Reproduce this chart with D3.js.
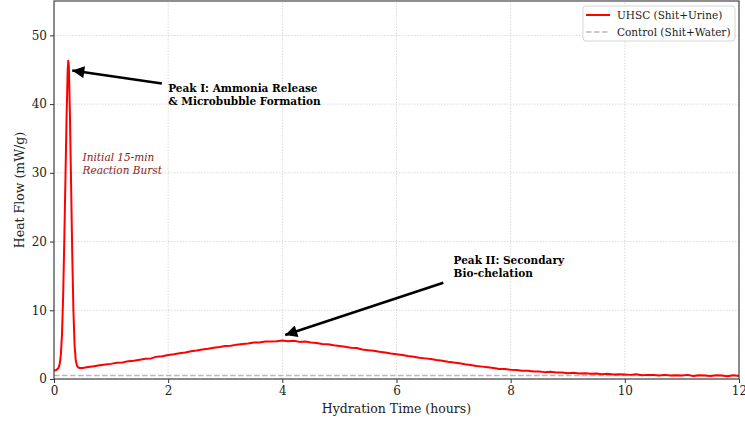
<!DOCTYPE html>
<html><head><meta charset="utf-8">
<script src="https://cdn.jsdelivr.net/npm/d3@7"></script>
<style>body{margin:0;background:#fff}svg{display:block}text{font-family:"DejaVu Serif",serif}</style>
</head><body><svg id="c" width="745" height="421"></svg>
<script>
// Peak I region (hours, mW/g)
const peakTimes  = [0.00,0.04,0.08,0.10,0.12,0.14,0.16,0.18,0.20,0.22,0.24,0.25,0.26,0.28,0.30,0.32,0.34,0.36,0.38,0.40,0.42,0.45];
const peakValues = [1.2, 1.3, 1.6, 2.2, 3.5, 6.5, 12,  20,  29,  38,  45,  46.3,45.5,38,  28,  18,  10,  5,   2.8, 2.0, 1.7, 1.6];
// Remainder of the curve (hours, mW/g)
const tailTimes = [0.5,0.6,0.7,0.8,0.9,1.0,1.1,1.2,1.3,1.4,1.5,1.6,1.7,1.8,1.9,2.0,2.1,2.2,2.3,2.4,2.5,2.6,2.7,2.8,2.9,
  3.0,3.1,3.2,3.3,3.4,3.5,3.6,3.7,3.8,3.9,4.0,4.1,4.2,4.3,4.4,4.5,4.6,4.7,4.8,4.9,5.0,5.1,5.2,5.3,5.4,5.5,5.6,5.7,5.8,5.9,
  6.0,6.1,6.2,6.3,6.4,6.5,6.6,6.7,6.8,6.9,7.0,7.1,7.2,7.3,7.4,7.5,7.6,7.7,7.8,7.9,8.0,8.1,8.2,8.3,8.4,8.5,8.6,8.7,8.8,8.9,
  9.0,9.1,9.2,9.3,9.4,9.5,9.6,9.7,9.8,9.9,10.0,10.1,10.2,10.3,10.4,10.5,10.6,10.7,10.8,10.9,11.0,11.1,11.2,11.3,11.4,11.5,11.6,11.7,11.8,11.9,12.0];
const tailValues = [1.6,1.75,1.85,2.0,2.1,2.2,2.35,2.4,2.6,2.65,2.8,2.95,3.0,3.25,3.3,3.5,3.6,3.75,3.85,4.05,4.15,4.3,4.4,4.55,4.65,
  4.8,4.85,5.0,5.1,5.15,5.3,5.3,5.45,5.45,5.5,5.6,5.5,5.55,5.4,5.45,5.3,5.25,5.1,5.05,4.9,4.8,4.7,4.55,4.5,4.3,4.2,4.1,3.95,3.85,3.7,
  3.6,3.5,3.35,3.25,3.1,3.0,2.9,2.75,2.65,2.5,2.4,2.3,2.15,2.05,1.9,1.8,1.7,1.6,1.45,1.45,1.35,1.3,1.2,1.2,1.1,1.1,1.0,1.05,0.95,0.95,
  0.85,0.9,0.8,0.85,0.75,0.8,0.7,0.75,0.65,0.7,0.65,0.6,0.7,0.55,0.6,0.6,0.5,0.6,0.5,0.55,0.5,0.6,0.45,0.55,0.5,0.45,0.55,0.5,0.4,0.55,0.45];
const controlTimes = [0, 12];
const controlValues = [0.5, 0.5];
const xTicks = [0,2,4,6,8,10,12];
const yTicks = [0,10,20,30,40,50];
const seriesNames = ["UHSC (Shit+Urine)", "Control (Shit+Water)"];

const W = 745, H = 421;
const m = {left:54, top:1, right:6, bottom:42};
const svg = d3.select("#c");
const x = d3.scaleLinear().domain([0,12]).range([m.left, W-m.right]);
const y = d3.scaleLinear().domain([0,55]).range([H-m.bottom, m.top]);

// grid
const g = svg.append("g");
g.selectAll(".vx").data(xTicks).join("line")
  .attr("x1",d=>x(d)).attr("x2",d=>x(d)).attr("y1",y(0)).attr("y2",y(55))
  .attr("stroke","#d0d0d0").attr("stroke-width",0.8).attr("stroke-dasharray","1.5,1.5");
g.selectAll(".hy").data(yTicks).join("line")
  .attr("x1",x(0)).attr("x2",x(12)).attr("y1",d=>y(d)).attr("y2",d=>y(d))
  .attr("stroke","#d0d0d0").attr("stroke-width",0.8).attr("stroke-dasharray","1.5,1.5");

const data = peakTimes.map((t,i)=>[t,peakValues[i]]).concat(tailTimes.map((t,i)=>[t,tailValues[i]]));
const line = d3.line().x(d=>x(d[0])).y(d=>y(d[1]));
svg.append("path").datum(controlTimes.map((t,i)=>[t,controlValues[i]])).attr("d",line)
  .attr("fill","none").attr("stroke","#b8b8b8").attr("stroke-width",1.5).attr("stroke-dasharray","5.5,2.5");
svg.append("path").datum(data).attr("d",line)
  .attr("fill","none").attr("stroke","#ff0000").attr("stroke-width",2).attr("stroke-linejoin","round");

// axes
const xAxis = svg.append("g").attr("transform",`translate(0,${y(0)})`)
  .call(d3.axisBottom(x).tickValues(xTicks).tickSize(4).tickPadding(3).tickFormat(d3.format("d")));
const yAxis = svg.append("g").attr("transform",`translate(${x(0)},0)`)
  .call(d3.axisLeft(y).tickValues(yTicks).tickSize(4).tickPadding(3).tickFormat(d3.format("d")));
[xAxis,yAxis].forEach(a=>{
  a.select(".domain").remove();
  a.selectAll(".tick line").attr("stroke","#333").attr("stroke-width",1);
  a.selectAll(".tick text").attr("font-family","DejaVu Serif").attr("font-size",12).attr("fill","#222");
});
// frame
svg.append("rect").attr("x",x(0)).attr("y",y(55)).attr("width",x(12)-x(0)).attr("height",y(0)-y(55))
  .attr("fill","none").attr("stroke","#444").attr("stroke-width",1.2);

svg.append("text").attr("x",(x(0)+x(12))/2).attr("y",413).attr("text-anchor","middle")
  .attr("font-size",12.5).attr("fill","#222").text("Hydration Time (hours)");
svg.append("text").attr("transform",`translate(24,${(y(0)+y(55))/2}) rotate(-90)`).attr("text-anchor","middle")
  .attr("font-size",12.5).attr("fill","#222").text("Heat Flow (mW/g)");

// arrows
const defs = svg.append("defs");
defs.append("marker").attr("id","ah").attr("viewBox","0 0 10 10").attr("refX",10).attr("refY",5)
  .attr("markerWidth",17).attr("markerHeight",12).attr("markerUnits","userSpaceOnUse").attr("orient","auto")
  .append("path").attr("d","M0,0L10,5L0,10Z").attr("fill","#000");
function arrow(t0,v0,t1,v1){
  svg.append("line").attr("x1",x(t0)).attr("y1",y(v0)).attr("x2",x(t1)).attr("y2",y(v1))
    .attr("stroke","#000").attr("stroke-width",2.5).attr("marker-end","url(#ah)");
}
arrow(1.89,43.0, 0.32,44.9);
arrow(6.82,14.0, 4.05,6.4);

function label(tx, ty, lines, opts){
  const t = svg.append("text").attr("x",tx).attr("y",ty).attr("font-size",opts.size)
    .attr("font-weight",opts.weight||"normal").attr("font-style",opts.style||"normal").attr("fill",opts.fill||"#000");
  lines.forEach((l,i)=>t.append("tspan").attr("x",tx).attr("dy",i?opts.lh:0).text(l));
}
label(x(2.0), 92, ["Peak I: Ammonia Release","& Microbubble Formation"], {size:10.5, weight:"bold", lh:13});
label(x(7.0), 264, ["Peak II: Secondary","Bio-chelation"], {size:10.5, weight:"bold", lh:12.5});
label(x(0.5), 161, ["Initial 15-min","Reaction Burst"], {size:10.5, style:"italic", fill:"#8b1a1a", lh:12.5});

// legend
const lg = svg.append("g");
lg.append("rect").attr("x",583).attr("y",6).attr("width",152).attr("height",35).attr("rx",3)
  .attr("fill","#fff").attr("fill-opacity",0.8).attr("stroke","#d6d6d6").attr("stroke-width",1);
lg.append("line").attr("x1",586).attr("x2",610).attr("y1",15).attr("y2",15).attr("stroke","#ff0000").attr("stroke-width",2);
lg.append("line").attr("x1",586).attr("x2",610).attr("y1",32).attr("y2",32).attr("stroke","#b8b8b8").attr("stroke-width",1.5).attr("stroke-dasharray","5.5,2.5");
lg.append("text").attr("x",617).attr("y",19).attr("font-size",10.5).attr("fill","#222").text(seriesNames[0]);
lg.append("text").attr("x",617).attr("y",36).attr("font-size",10.5).attr("fill","#222").text(seriesNames[1]);
</script></body></html>
